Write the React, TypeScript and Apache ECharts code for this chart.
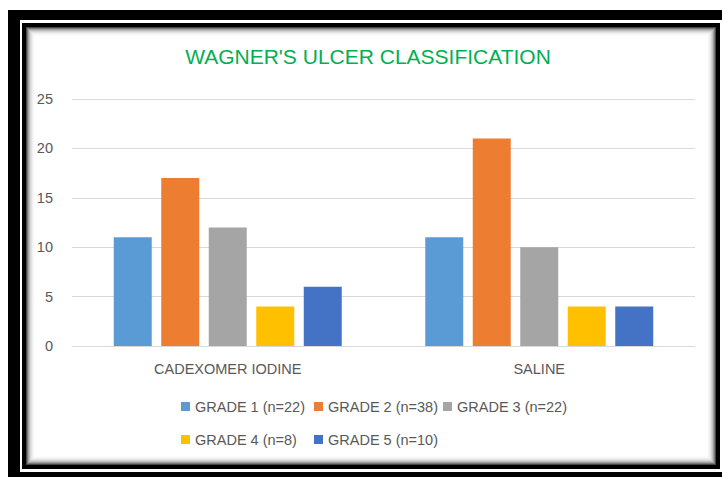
import React, { useEffect, useRef } from "react";
import * as echarts from "echarts";

const categories = ["CADEXOMER IODINE", "SALINE"];
const seriesNames = [
  "GRADE 1 (n=22)",
  "GRADE 2 (n=38)",
  "GRADE 3 (n=22)",
  "GRADE 4 (n=8)",
  "GRADE 5 (n=10)",
];
const grade1 = [11, 11];
const grade2 = [17, 21];
const grade3 = [12, 10];
const grade4 = [4, 4];
const grade5 = [6, 4];
const seriesColors = ["#5B9BD5", "#ED7D31", "#A5A5A5", "#FFC000", "#4472C4"];
const yMin = 0;
const yMax = 25;
const yInterval = 5;

const FONT = "'Liberation Sans', Arial, sans-serif";
const TEXT = "#595959";

export default function App() {
  const ref = useRef<HTMLDivElement>(null);
  useEffect(() => {
    if (!ref.current) return;
    const chart = echarts.init(ref.current, undefined, { renderer: "svg" });
    const values = [grade1, grade2, grade3, grade4, grade5];

    // frame graphics
    const grays = [70, 120, 160, 190, 212, 228, 240, 247, 252, 255];
    const frame: any[] = [
      { type: "rect", shape: { x: 8, y: 10, width: 730, height: 475 }, style: { fill: "#000" }, z: -10 },
      { type: "rect", shape: { x: 20, y: 20, width: 712, height: 452 }, style: { fill: "#fff" }, z: -10 },
      { type: "rect", shape: { x: 22, y: 23, width: 698, height: 446 }, style: { fill: "#000" }, z: -10 },
    ];
    grays.forEach((g, i) => {
      frame.push({
        type: "rect",
        shape: { x: 26 + i, y: 27 + i, width: 690 - 2 * i, height: 438 - 2 * i },
        style: { fill: `rgb(${g},${g},${g})` },
        z: -10,
      });
    });

    const legendPos = [
      { left: 181, top: 399 },
      { left: 314, top: 399 },
      { left: 443, top: 399 },
      { left: 181, top: 432 },
      { left: 314, top: 432 },
    ];

    chart.setOption({
      animation: false,
      backgroundColor: "#fff",
      graphic: frame,
      title: {
        text: "WAGNER'S ULCER CLASSIFICATION",
        left: 368,
        top: 46,
        textAlign: "center",
        padding: 0,
        textStyle: { color: "#00B050", fontSize: 21, fontWeight: "normal", fontFamily: FONT },
      },
      legend: seriesNames.map((n, i) => ({
        data: [n],
        left: legendPos[i].left,
        top: legendPos[i].top,
        padding: 0,
        itemWidth: 9,
        itemHeight: 9,
        icon: "rect",
        textStyle: { color: TEXT, fontSize: 14.5, fontFamily: FONT },
      })),
      grid: { left: 72, right: 27, top: 99, bottom: 131 },
      xAxis: {
        type: "category",
        data: categories,
        axisLine: { lineStyle: { color: "#D9D9D9" } },
        axisTick: { show: false },
        axisLabel: { color: TEXT, fontSize: 14.5, fontFamily: FONT, margin: 15 },
      },
      yAxis: {
        type: "value",
        min: yMin,
        max: yMax,
        interval: yInterval,
        axisLine: { show: false },
        axisTick: { show: false },
        splitLine: { lineStyle: { color: "#D9D9D9" } },
        axisLabel: { color: TEXT, fontSize: 14.5, fontFamily: FONT, margin: 19 },
      },
      series: seriesNames.map((n, i) => ({
        name: n,
        type: "bar",
        data: values[i],
        barWidth: 38,
        barGap: "25%",
        itemStyle: { color: seriesColors[i] },
      })),
    });
    return () => chart.dispose();
  }, []);
  return (
    <div
      ref={ref}
      style={{ position: "absolute", left: 0, top: 0, width: 722, height: 477 }}
    />
  );
}
